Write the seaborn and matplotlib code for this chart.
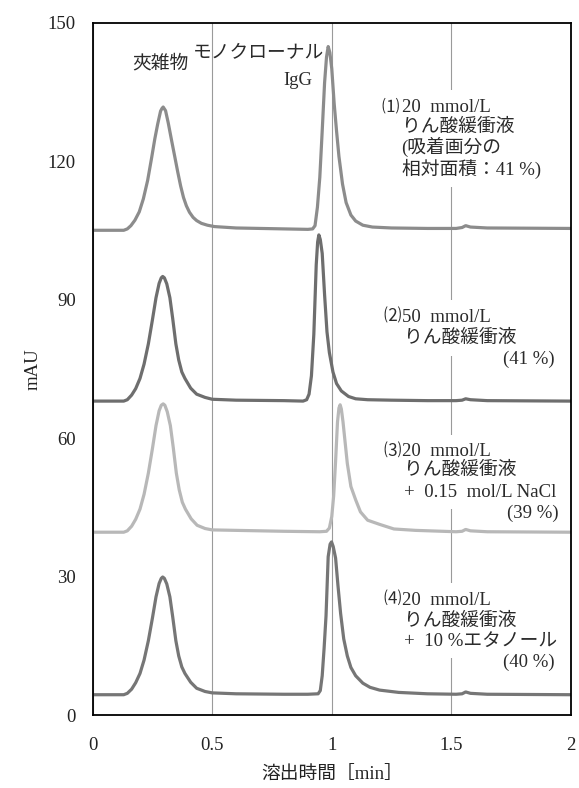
import matplotlib
matplotlib.use("Agg")
import matplotlib.pyplot as plt
import pandas as pd
import seaborn as sns

# ---------------- data ----------------
S1_X = [0.000, 0.130, 0.145, 0.160, 0.177, 0.195, 0.212, 0.230, 0.247, 0.260, 0.272, 0.284, 0.290, 0.295,
        0.305, 0.316, 0.330, 0.344, 0.356, 0.368, 0.380, 0.392, 0.405, 0.420, 0.435, 0.455, 0.480, 0.510,
        0.600, 0.800, 0.900, 0.920, 0.930, 0.940, 0.950, 0.960, 0.970, 0.978, 0.985, 0.992, 1.000, 1.010,
        1.020, 1.030, 1.045, 1.060, 1.080, 1.100, 1.130, 1.170, 1.250, 1.400, 1.520, 1.545, 1.560, 1.580,
        1.650, 2.000]
S1_Y = [105.0, 105.0, 105.3, 106.0, 107.2, 109.0, 111.8, 115.8, 120.8, 124.8, 128.0, 130.8, 131.4, 131.7,
        130.9, 128.3, 124.5, 120.8, 117.6, 114.6, 112.1, 110.3, 108.9, 107.8, 107.1, 106.5, 106.1, 105.8,
        105.5, 105.3, 105.2, 105.3, 106.0, 110.0, 116.5, 126.5, 137.0, 142.5, 144.8, 143.5, 140.0, 132.5,
        126.5, 121.0, 115.0, 111.0, 108.3, 107.0, 106.1, 105.7, 105.5, 105.4, 105.4, 105.6, 106.0, 105.7,
        105.5, 105.4]

S2_X = [0.000, 0.130, 0.145, 0.163, 0.180, 0.198, 0.215, 0.233, 0.250, 0.265, 0.278, 0.287, 0.293, 0.300,
        0.310, 0.323, 0.335, 0.348, 0.360, 0.373, 0.386, 0.410, 0.435, 0.470, 0.500, 0.600, 0.800, 0.880,
        0.895, 0.905, 0.915, 0.925, 0.935, 0.941, 0.946, 0.952, 0.960, 0.970, 0.980, 0.990, 1.005, 1.020,
        1.040, 1.070, 1.100, 1.150, 1.250, 1.400, 1.520, 1.545, 1.560, 1.580, 1.650, 2.000]
S2_Y = [68.0, 68.0, 68.3, 69.3, 70.7, 72.9, 76.0, 80.4, 85.6, 90.4, 93.5, 94.7, 95.0, 94.7,
        93.4, 90.4, 85.8, 80.4, 76.9, 74.3, 72.9, 70.8, 69.5, 68.8, 68.4, 68.2, 68.1, 68.0,
        68.3, 69.5, 73.5, 82.5, 97.5, 102.5, 104.0, 103.0, 100.0, 91.0, 83.0, 78.5, 74.3, 71.8,
        70.2, 69.0, 68.5, 68.3, 68.2, 68.1, 68.1, 68.2, 68.5, 68.3, 68.1, 68.0]

S3_X = [0.000, 0.130, 0.145, 0.163, 0.180, 0.198, 0.215, 0.233, 0.250, 0.265, 0.278, 0.287, 0.295, 0.302,
        0.312, 0.325, 0.337, 0.350, 0.362, 0.375, 0.388, 0.412, 0.437, 0.470, 0.500, 0.600, 0.800, 0.950,
        0.978, 0.990, 1.000, 1.008, 1.016, 1.024, 1.030, 1.035, 1.040, 1.047, 1.055, 1.065, 1.080, 1.100,
        1.120, 1.150, 1.200, 1.260, 1.350, 1.520, 1.545, 1.560, 1.580, 1.650, 2.000]
S3_Y = [39.6, 39.6, 39.9, 40.9, 42.4, 44.6, 47.8, 52.4, 57.7, 62.7, 65.9, 67.1, 67.4, 67.1,
        65.7, 62.7, 58.0, 52.4, 48.8, 46.1, 44.6, 42.5, 41.1, 40.4, 40.1, 40.0, 39.8, 39.7,
        39.8, 40.5, 43.0, 47.5, 55.0, 63.5, 66.5, 67.2, 66.3, 63.5, 59.5, 54.5, 49.5, 46.6,
        44.0, 42.2, 41.3, 40.3, 40.0, 39.7, 39.8, 40.2, 39.9, 39.7, 39.6]

S4_X = [0.000, 0.130, 0.145, 0.163, 0.180, 0.198, 0.215, 0.233, 0.250, 0.265, 0.278, 0.287, 0.293, 0.300,
        0.310, 0.323, 0.335, 0.348, 0.360, 0.373, 0.386, 0.410, 0.435, 0.470, 0.500, 0.600, 0.800, 0.900,
        0.943, 0.952, 0.960, 0.968, 0.976, 0.985, 0.993, 0.999, 1.006, 1.016, 1.026, 1.037, 1.050, 1.065,
        1.080, 1.100, 1.130, 1.160, 1.200, 1.280, 1.400, 1.520, 1.545, 1.560, 1.580, 1.650, 2.000]
S4_Y = [4.4, 4.4, 4.7, 5.6, 7.0, 9.0, 11.9, 16.1, 21.0, 25.6, 28.5, 29.6, 29.9, 29.6,
        28.4, 25.6, 21.2, 16.1, 12.8, 10.4, 9.0, 7.1, 5.8, 5.1, 4.8, 4.6, 4.5, 4.5,
        4.6, 5.3, 8.5, 14.5, 21.5, 34.3, 37.0, 37.5, 36.5, 34.0, 28.0, 22.0, 16.5, 12.8,
        10.3, 8.5, 6.9, 6.0, 5.4, 4.9, 4.6, 4.5, 4.6, 5.0, 4.7, 4.5, 4.4]

SERIES = ["(1)", "(2)", "(3)", "(4)"]
COLORS = ["#8c8c8c", "#6e6e6e", "#b8b8b8", "#767676"]

X_TICKS = [0, 0.5, 1, 1.5, 2]
X_TICK_LABELS = ["0", "0.5", "1", "1.5", "2"]
Y_TICKS = [0, 30, 60, 90, 120, 150]

PEAK_LABELS = ["夾雑物", "モノクローナル", "IgG"]
BLOCK_NUMS = ["⑴", "⑵", "⑶", "⑷"]
BLOCK_FIRST = ["20  mmol/L", "50  mmol/L", "20  mmol/L", "20  mmol/L"]
BUFFER = "りん酸緩衝液"
BLOCK1_EXTRA = ["(吸着画分の", "相対面積：41 %)"]
ADDITIVES = ["+  0.15  mol/L NaCl", "+  10 %エタノール"]
PERCENTS = ["(41 %)", "(39 %)", "(40 %)"]

# ---------------- figure ----------------
sns.set_style("white")
plt.rcParams["font.family"] = ["Liberation Serif", "Noto Sans CJK JP", "DejaVu Sans"]
plt.rcParams["axes.unicode_minus"] = False

frames = []
for name, xs, ys in zip(SERIES, [S1_X, S2_X, S3_X, S4_X], [S1_Y, S2_Y, S3_Y, S4_Y]):
    frames.append(pd.DataFrame({"time": xs, "mAU": ys, "series": name}))
df = pd.concat(frames, ignore_index=True)

fig = plt.figure(figsize=(5.79, 7.88), dpi=100)
ax = fig.add_axes([0.160, 0.0926, 0.826, 0.8788])

sns.lineplot(data=df, x="time", y="mAU", hue="series", hue_order=SERIES,
             palette=dict(zip(SERIES, COLORS)), estimator=None, sort=False,
             linewidth=2.3, legend=False, ax=ax, zorder=5)

ax.set_xlim(0, 2)
ax.set_ylim(0, 150)
ax.set_xticks(X_TICKS)
ax.set_xticklabels(X_TICK_LABELS)
ax.set_yticks(Y_TICKS)
ax.grid(axis="x", color="#9a9a9a", linewidth=0.8)
ax.grid(axis="y", visible=False)
ax.set_axisbelow(True)
for sp in ax.spines.values():
    sp.set_color("black")
    sp.set_linewidth(1.3)
    sp.set_zorder(7)
ax.tick_params(axis="y", direction="in", length=4, width=1.1, pad=12, labelsize=13.5, colors="#222222")
ax.tick_params(axis="x", length=0, pad=16, labelsize=13.5, colors="#222222")

ax.set_xlabel("溶出時間［min］", fontsize=13.5, color="#222222", labelpad=9)
ax.set_ylabel("mAU", fontsize=13.5, color="#222222")
ax.yaxis.set_label_coords(-0.106, 0.5)

fs = 13.5
tc = "#2a2a2a"
box = dict(facecolor="white", edgecolor="none", pad=6)

ax.text(0.282, 141.1, PEAK_LABELS[0], ha="center", va="center", fontsize=fs, color=tc)
ax.text(0.693, 143.5, PEAK_LABELS[1], ha="center", va="center", fontsize=fs, color=tc)
ax.text(0.856, 137.4, PEAK_LABELS[2], ha="center", va="center", fontsize=fs, color=tc)


def line(x, y, s, ha="left"):
    # white backing (hides the grid line) drawn below the curves, then the text itself on top
    ax.text(x, y, s, ha=ha, va="center", fontsize=fs, color="none", bbox=box, zorder=3)
    ax.text(x, y, s, ha=ha, va="center", fontsize=fs, color=tc, zorder=6)


def num(x, y, s):
    ax.text(x, y, s, ha="left", va="center", fontsize=fs - 1, color=tc, zorder=6)


# block 1
line(1.292, 131.7, BLOCK_FIRST[0])
line(1.295, 127.3, BUFFER)
line(1.292, 123.0, BLOCK1_EXTRA[0])
line(1.292, 118.3, BLOCK1_EXTRA[1])
num(1.209, 131.7, BLOCK_NUMS[0])
# block 2
line(1.292, 86.2, BLOCK_FIRST[1])
line(1.300, 81.5, BUFFER)
line(1.933, 77.0, PERCENTS[0], ha="right")
num(1.215, 86.2, BLOCK_NUMS[1])
# block 3
line(1.292, 57.1, BLOCK_FIRST[2])
line(1.300, 53.0, BUFFER)
line(1.302, 48.3, ADDITIVES[0])
line(1.947, 43.7, PERCENTS[1], ha="right")
num(1.215, 57.1, BLOCK_NUMS[2])
# block 4
line(1.292, 24.9, BLOCK_FIRST[3])
line(1.300, 20.2, BUFFER)
line(1.302, 15.9, ADDITIVES[1])
line(1.934, 11.5, PERCENTS[2], ha="right")
num(1.215, 24.9, BLOCK_NUMS[3])

fig.savefig("out.png", dpi=100, facecolor="white")
